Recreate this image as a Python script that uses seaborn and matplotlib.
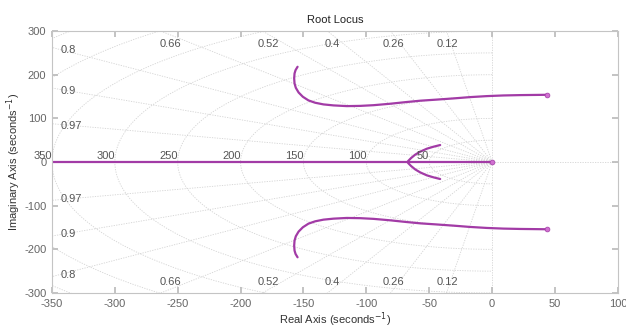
import numpy as np
import pandas as pd
import matplotlib
matplotlib.use("Agg")
import matplotlib.pyplot as plt
import seaborn as sns

# ---- data ----
upper_re = [43.5, 22.3, 9, -4.2, -17.5, -30.8, -44, -57, -67.8, -81.1, -94.3, -104.9, -115.5,
            -126.1, -134.1, -140.7, -146.0, -150.5, -153.9, -156.1, -157.1, -157.4, -157.1,
            -156.3, -154.7]
upper_im = [154, 153.3, 152.5, 151, 148.7, 145.7, 143, 140.5, 137.5, 133.5, 130.2, 128.6, 128.1,
            129.7, 132.0, 135.8, 141.1, 149.5, 159.4, 170.1, 180.0, 191.5, 202.9,
            210.5, 218.2]
brk_re = [-41.3, -46.6, -51.9, -57.2, -61.2, -64.4, -66.5, -67.3]
brk_im = [38.9, 35.1, 30.5, 23.7, 16.8, 9.2, 3.1, 0]
real_re = [0, -360]
real_im = [0, 0]
poles_re = [0, 43.5, 43.5]
poles_im = [0, 154, -154]
zetas = [0.12, 0.26, 0.4, 0.52, 0.66, 0.8, 0.9, 0.97]
wns = [50, 100, 150, 200, 250, 300, 350]
wns_extra = [400, 450]
xticks = list(range(-350, 101, 50))
yticks = list(range(-300, 301, 100))

sns.set_theme(style="white")
plt.rcParams['font.family'] = ['Liberation Sans', 'DejaVu Sans']
plt.rcParams['axes.unicode_minus'] = False

fig = plt.figure(figsize=(6.26, 3.27), dpi=100)
ax = fig.add_axes([0.083, 0.104, 0.904, 0.801])

grid_c = "#d3d3d3"
gls = (0, (1.5, 1.5))
# damping ratio lines
for z in zetas:
    s = np.sqrt(1 - z ** 2)
    r = 1000
    ax.plot([0, -z * r], [0, s * r], ls=gls, color=grid_c, lw=0.6, zorder=0)
    ax.plot([0, -z * r], [0, -s * r], ls=gls, color=grid_c, lw=0.6, zorder=0)
ax.axhline(0, ls=gls, color=grid_c, lw=0.6, zorder=0)
ax.axvline(0, ls=gls, color=grid_c, lw=0.6, zorder=0)
# natural frequency arcs
th = np.linspace(np.pi / 2, 3 * np.pi / 2, 200)
for w in wns + wns_extra:
    ax.plot(w * np.cos(th), w * np.sin(th), ls=gls, color=grid_c, lw=0.6, zorder=0)

lab_c = "#555555"
for w in wns:
    ax.text(-w, 2, str(w), ha="right", va="bottom", fontsize=8, color=lab_c, clip_on=False)
for z in zetas:
    s = np.sqrt(1 - z ** 2)
    xt = -300 * z / s
    if xt > -345:
        xl = xt * 0.972
        ax.text(xl, 271, f"{z:g}", ha="center", va="center", fontsize=8, color=lab_c)
        ax.text(xl, -275, f"{z:g}", ha="center", va="center", fontsize=8, color=lab_c)
    else:
        yt = 350 * s / z - 6
        ax.text(-343, yt, f"{z:g}", ha="left", va="center", fontsize=8, color=lab_c)
        ax.text(-343, -yt - 2, f"{z:g}", ha="left", va="center", fontsize=8, color=lab_c)

# locus branches
col = "#a23ba6"
frames = []
for name, xs, ys in [("u", upper_re, upper_im), ("l", upper_re, [-v for v in upper_im]),
                     ("bu", brk_re, brk_im), ("bl", brk_re, [-v for v in brk_im]),
                     ("r", real_re, real_im)]:
    frames.append(pd.DataFrame({"re": xs, "im": ys, "branch": name}))
df = pd.concat(frames, ignore_index=True)
for name, g in df.groupby("branch"):
    sns.lineplot(data=g, x="re", y="im", sort=False, color=col, lw=1.6, ax=ax, estimator=None,
                 solid_joinstyle="round", solid_capstyle="round")
sns.scatterplot(x=poles_re, y=poles_im, color="#d070d0", s=12, edgecolor=col, linewidth=0.5, ax=ax, zorder=5)

ax.set_xlim(-350, 100)
ax.set_ylim(-300, 300)
ax.set_xticks(xticks)
ax.set_yticks(yticks)
ax.tick_params(direction="in", length=4, color="#bbbbbb", labelsize=8, labelcolor="#666666",
               top=True, right=True, bottom=True, left=True, pad=4)
for sp in ax.spines.values():
    sp.set_color("#c4c4c4")
    sp.set_linewidth(0.8)
ax.set_xlabel("Real Axis (seconds$^{-1}$)", fontsize=8, color="#333333", labelpad=1)
ax.set_ylabel("Imaginary Axis (seconds$^{-1}$)", fontsize=8, color="#333333", labelpad=1)
ax.set_title("Root Locus", fontsize=8, color="#222222", pad=6)

fig.savefig("out.png", dpi=100)
